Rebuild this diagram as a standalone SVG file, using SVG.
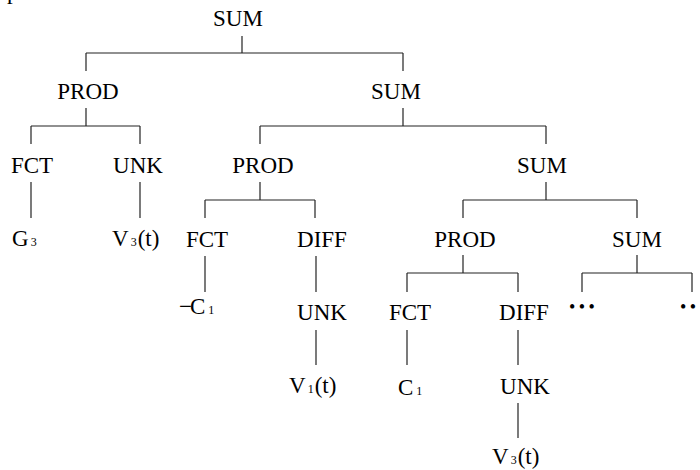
<svg xmlns="http://www.w3.org/2000/svg" width="700" height="470" viewBox="0 0 700 470">
<style>
text{font-family:"Liberation Serif","Times New Roman",serif;font-size:23px;fill:#000}
.c{text-anchor:middle}
.s{font-size:12px}
.d{font-size:18px;letter-spacing:3.5px}
#edges line{stroke:#222;stroke-width:1.2}
</style>
<rect width="700" height="470" fill="#fff"/>
<text x="7" y="-1">p</text>
<g id="edges">
<line x1="242" y1="36" x2="242" y2="53"/><line x1="86" y1="53" x2="403" y2="53"/><line x1="86" y1="53" x2="86" y2="71"/><line x1="403" y1="53" x2="403" y2="71"/>
<line x1="86" y1="108" x2="86" y2="126"/><line x1="31" y1="126" x2="140" y2="126"/><line x1="31" y1="126" x2="31" y2="144"/><line x1="140" y1="126" x2="140" y2="144"/>
<line x1="403" y1="108" x2="403" y2="126"/><line x1="260" y1="126" x2="546" y2="126"/><line x1="260" y1="126" x2="260" y2="144"/><line x1="546" y1="126" x2="546" y2="144"/>
<line x1="31" y1="182" x2="31" y2="218"/><line x1="140" y1="182" x2="140" y2="218"/>
<line x1="260" y1="182" x2="260" y2="200"/><line x1="205" y1="200" x2="315" y2="200"/><line x1="205" y1="200" x2="205" y2="218"/><line x1="315" y1="200" x2="315" y2="218"/>
<line x1="546" y1="182" x2="546" y2="200"/><line x1="463" y1="200" x2="637" y2="200"/><line x1="463" y1="200" x2="463" y2="218"/><line x1="637" y1="200" x2="637" y2="218"/>
<line x1="205" y1="256" x2="205" y2="292"/><line x1="316" y1="256" x2="316" y2="292"/>
<line x1="463" y1="255" x2="463" y2="273"/><line x1="407" y1="273" x2="518" y2="273"/><line x1="407" y1="273" x2="407" y2="292"/><line x1="518" y1="273" x2="518" y2="292"/>
<line x1="637" y1="255" x2="637" y2="273"/><line x1="582" y1="273" x2="692" y2="273"/><line x1="582" y1="273" x2="582" y2="292"/><line x1="692" y1="273" x2="692" y2="292"/>
<line x1="316" y1="330" x2="316" y2="365"/><line x1="407" y1="330" x2="407" y2="365"/><line x1="518" y1="330" x2="518" y2="365"/>
<line x1="518" y1="403" x2="518" y2="438"/>
</g>
<g id="n-sum0"><text class="c" x="238" y="26">SUM</text></g>
<g id="n-prod1"><text class="c" x="88" y="99">PROD</text></g>
<g id="n-sum1"><text class="c" x="396" y="99">SUM</text></g>
<g id="n-fct1"><text class="c" x="32" y="173">FCT</text></g>
<g id="n-unk1"><text class="c" x="138" y="173">UNK</text></g>
<g id="n-prod2"><text class="c" x="263" y="173">PROD</text></g>
<g id="n-sum2"><text class="c" x="542" y="173">SUM</text></g>
<g id="n-g3"><text x="12" y="246">G<tspan class="s" dx="2">3</tspan></text></g>
<g id="n-v3a"><text x="112" y="246">V<tspan class="s" dx="2">3</tspan><tspan dx="1">(t)</tspan></text></g>
<g id="n-fct2"><text class="c" x="207" y="247">FCT</text></g>
<g id="n-diff2"><text class="c" x="322" y="247">DIFF</text></g>
<g id="n-prod3"><text class="c" x="465" y="247">PROD</text></g>
<g id="n-sum3"><text class="c" x="637" y="247">SUM</text></g>
<g id="n-negc1"><text x="179" y="314">−<tspan dx="-2">C</tspan><tspan class="s" dx="3">1</tspan></text></g>
<g id="n-unk2"><text class="c" x="322" y="320">UNK</text></g>
<g id="n-fct3"><text class="c" x="410" y="320">FCT</text></g>
<g id="n-diff3"><text class="c" x="524" y="320">DIFF</text></g>
<g id="n-dots1"><text class="d" x="569" y="313">•••</text></g>
<g id="n-dots2"><text class="d" x="680" y="313">•••</text></g>
<g id="n-v1"><text x="289" y="393">V<tspan class="s" dx="2">1</tspan><tspan dx="1">(t)</tspan></text></g>
<g id="n-c1"><text x="398" y="395">C<tspan class="s" dx="3">1</tspan></text></g>
<g id="n-unk3"><text class="c" x="525" y="394">UNK</text></g>
<g id="n-v3b"><text x="492" y="464">V<tspan class="s" dx="2">3</tspan><tspan dx="1">(t)</tspan></text></g>
</svg>
